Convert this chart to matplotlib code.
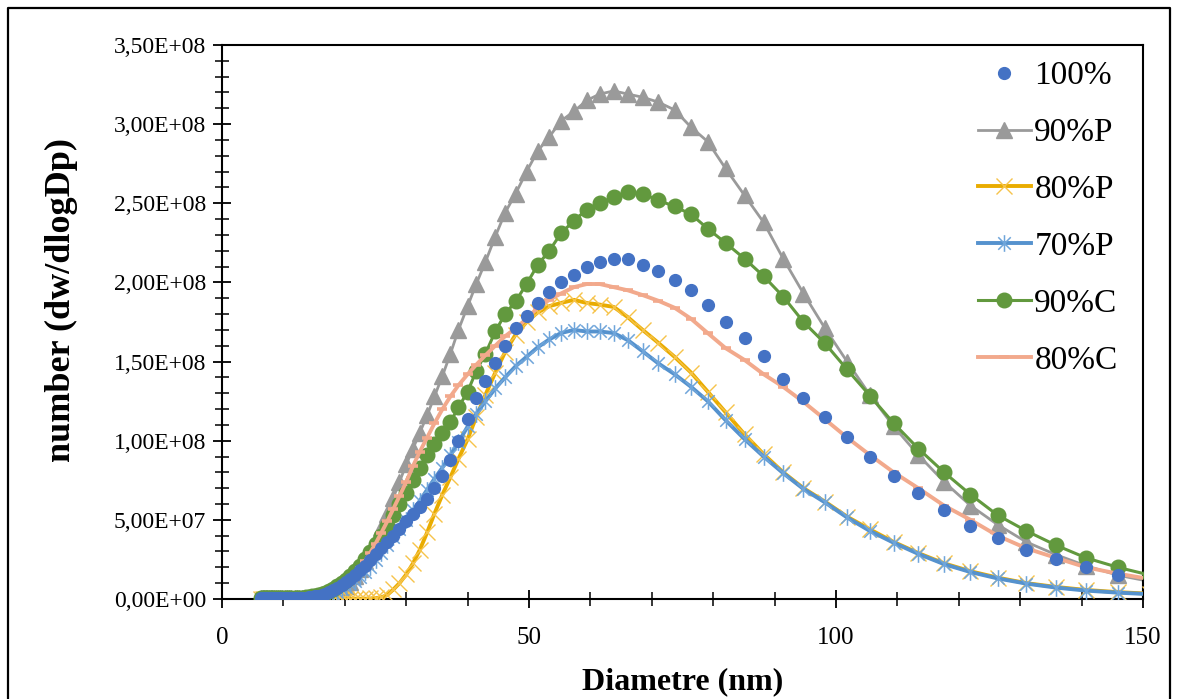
import matplotlib
matplotlib.use("Agg")
import matplotlib.pyplot as plt
from matplotlib.lines import Line2D
from matplotlib.path import Path
from matplotlib.ticker import MultipleLocator, FuncFormatter
import numpy as np

plt.rcParams["font.family"] = ["Liberation Serif", "DejaVu Serif"]

# ── data: SMPS channel diameters (nm) and dN/dlogDp (x 1e8) ──────────────────
diam = [6.38, 6.61, 6.85, 7.09, 7.37, 7.64, 7.91, 8.20, 8.51, 8.82,
        9.14, 9.47, 9.82, 10.2, 10.6, 10.9, 11.3, 11.8, 12.2, 12.6,
        13.1, 13.6, 14.1, 14.6, 15.1, 15.7, 16.3, 16.8, 17.5, 18.1,
        18.8, 19.5, 20.2, 20.9, 21.7, 22.5, 23.3, 24.1, 25.0, 25.9,
        26.9, 27.9, 28.9, 30.0, 31.1, 32.2, 33.4, 34.6, 35.9, 37.2,
        38.5, 40.0, 41.4, 42.9, 44.5, 46.1, 47.8, 49.6, 51.4, 53.3,
        55.2, 57.3, 59.4, 61.5, 63.8, 66.1, 68.5, 71.0, 73.7, 76.4,
        79.1, 82.0, 85.1, 88.2, 91.4, 94.7, 98.2, 101.8, 105.5, 109.4,
        113.4, 117.6, 121.9, 126.3, 131.0, 135.8, 140.7, 145.9, 151.2]

p100 = [0.004, 0.004, 0.004, 0.004, 0.004, 0.004, 0.004, 0.004, 0.004, 0.004,
        0.004, 0.004, 0.004, 0.004, 0.005, 0.005, 0.005, 0.006, 0.006, 0.007,
        0.008, 0.009, 0.011, 0.013, 0.016, 0.020, 0.026, 0.033, 0.043, 0.055,
        0.070, 0.087, 0.106, 0.127, 0.152, 0.180, 0.210, 0.245, 0.285, 0.320,
        0.360, 0.400, 0.445, 0.490, 0.535, 0.580, 0.630, 0.700, 0.780, 0.880,
        1.000, 1.140, 1.270, 1.380, 1.490, 1.600, 1.710, 1.790, 1.870, 1.940,
        2.000, 2.050, 2.095, 2.130, 2.145, 2.145, 2.110, 2.070, 2.015, 1.950,
        1.860, 1.750, 1.650, 1.535, 1.390, 1.270, 1.150, 1.025, 0.900, 0.780,
        0.670, 0.560, 0.460, 0.385, 0.310, 0.255, 0.200, 0.150, 0.115]

p90P = [0.003, 0.003, 0.003, 0.003, 0.003, 0.003, 0.003, 0.003, 0.003, 0.003,
        0.003, 0.003, 0.003, 0.003, 0.003, 0.003, 0.003, 0.003, 0.003, 0.003,
        0.003, 0.004, 0.005, 0.006, 0.008, 0.011, 0.015, 0.020, 0.027, 0.037,
        0.050, 0.066, 0.085, 0.110, 0.145, 0.190, 0.240, 0.300, 0.370, 0.450,
        0.540, 0.640, 0.740, 0.850, 0.950, 1.050, 1.160, 1.280, 1.410, 1.550,
        1.700, 1.850, 1.990, 2.130, 2.290, 2.440, 2.560, 2.700, 2.830, 2.920,
        3.020, 3.080, 3.150, 3.190, 3.210, 3.190, 3.170, 3.140, 3.090, 2.980,
        2.890, 2.720, 2.550, 2.380, 2.150, 1.930, 1.710, 1.500, 1.290, 1.090,
        0.910, 0.740, 0.590, 0.470, 0.360, 0.280, 0.210, 0.150, 0.110]

p80P = [0.001, 0.001, 0.001, 0.001, 0.001, 0.001, 0.001, 0.001, 0.001, 0.001,
        0.001, 0.001, 0.001, 0.001, 0.001, 0.001, 0.001, 0.001, 0.001, 0.001,
        0.001, 0.001, 0.001, 0.001, 0.001, 0.001, 0.001, 0.001, 0.001, 0.001,
        0.001, 0.001, 0.001, 0.001, 0.002, 0.002, 0.002, 0.003, 0.005, 0.010,
        0.025, 0.060, 0.100, 0.155, 0.225, 0.310, 0.420, 0.540, 0.660, 0.770,
        0.885, 1.010, 1.150, 1.290, 1.430, 1.560, 1.670, 1.750, 1.810, 1.850,
        1.870, 1.890, 1.870, 1.860, 1.845, 1.780, 1.700, 1.620, 1.530, 1.430,
        1.310, 1.180, 1.040, 0.915, 0.800, 0.700, 0.615, 0.520, 0.440, 0.360,
        0.290, 0.225, 0.175, 0.135, 0.100, 0.076, 0.057, 0.043, 0.033]

p70P = [0.002, 0.002, 0.002, 0.002, 0.002, 0.002, 0.002, 0.002, 0.002, 0.002,
        0.002, 0.002, 0.002, 0.002, 0.002, 0.002, 0.002, 0.002, 0.002, 0.002,
        0.002, 0.003, 0.004, 0.005, 0.007, 0.010, 0.014, 0.019, 0.026, 0.035,
        0.046, 0.060, 0.075, 0.093, 0.115, 0.140, 0.170, 0.200, 0.245, 0.290,
        0.340, 0.390, 0.440, 0.500, 0.560, 0.620, 0.690, 0.760, 0.830, 0.910,
        0.990, 1.090, 1.170, 1.250, 1.330, 1.400, 1.470, 1.530, 1.590, 1.640,
        1.680, 1.700, 1.690, 1.690, 1.680, 1.635, 1.565, 1.490, 1.420, 1.340,
        1.250, 1.130, 1.010, 0.900, 0.795, 0.695, 0.610, 0.515, 0.430, 0.355,
        0.285, 0.220, 0.170, 0.130, 0.097, 0.072, 0.053, 0.040, 0.030]

p90C = [0.004, 0.004, 0.004, 0.004, 0.004, 0.004, 0.004, 0.004, 0.004, 0.004,
        0.004, 0.004, 0.004, 0.004, 0.005, 0.005, 0.005, 0.006, 0.007, 0.008,
        0.009, 0.011, 0.013, 0.016, 0.020, 0.025, 0.032, 0.040, 0.051, 0.064,
        0.080, 0.098, 0.120, 0.145, 0.175, 0.210, 0.250, 0.295, 0.345, 0.400,
        0.460, 0.530, 0.600, 0.670, 0.750, 0.830, 0.910, 0.980, 1.050, 1.120,
        1.210, 1.310, 1.440, 1.550, 1.690, 1.800, 1.880, 1.990, 2.110, 2.200,
        2.310, 2.390, 2.460, 2.500, 2.540, 2.570, 2.560, 2.520, 2.480, 2.430,
        2.340, 2.250, 2.150, 2.040, 1.910, 1.750, 1.615, 1.450, 1.285, 1.110,
        0.950, 0.800, 0.660, 0.530, 0.430, 0.340, 0.260, 0.200, 0.150]

p80C = [0.003, 0.003, 0.003, 0.003, 0.003, 0.003, 0.003, 0.003, 0.003, 0.003,
        0.003, 0.003, 0.003, 0.003, 0.003, 0.003, 0.003, 0.003, 0.003, 0.003,
        0.003, 0.004, 0.005, 0.006, 0.008, 0.011, 0.015, 0.020, 0.028, 0.038,
        0.052, 0.070, 0.092, 0.120, 0.155, 0.195, 0.240, 0.290, 0.350, 0.415,
        0.490, 0.570, 0.650, 0.740, 0.840, 0.930, 1.020, 1.110, 1.200, 1.280,
        1.350, 1.420, 1.480, 1.540, 1.600, 1.660, 1.710, 1.770, 1.840, 1.890,
        1.930, 1.970, 1.990, 1.990, 1.970, 1.950, 1.920, 1.885, 1.840, 1.770,
        1.680, 1.585, 1.510, 1.420, 1.340, 1.245, 1.135, 1.020, 0.910, 0.800,
        0.700, 0.590, 0.500, 0.400, 0.320, 0.260, 0.200, 0.160, 0.125]

SCALE = 1e8
x = np.array(diam)

# Excel "star" marker: vertical bar + X
star = Path([(0, -1), (0, 1), (-0.75, -0.75), (0.75, 0.75), (-0.75, 0.75), (0.75, -0.75)],
            [Path.MOVETO, Path.LINETO] * 3)

fig = plt.figure(figsize=(11.78, 6.99), dpi=100)
ax = fig.add_axes([0.1885, 0.1431, 0.7818, 0.7925])

ax.plot(x, np.array(p90P) * SCALE, color="#9A9A9A", lw=2.0, marker="^", ms=11,
        mfc="#9A9A9A", mec="#9A9A9A", label="90%P", zorder=2)
ax.plot(x, np.array(p80P) * SCALE, color="#E9AC00", lw=2.8, marker="x", ms=11,
        mec="#F6C34A", mew=1.0, label="80%P", zorder=3)
ax.plot(x, np.array(p70P) * SCALE, color="#5592CE", lw=2.8, marker=star, ms=12,
        mfc="none", mec="#6FA5DA", mew=1.1, label="70%P", zorder=4)
ax.plot(x, np.array(p90C) * SCALE, color="#62993E", lw=2.2, marker="o", ms=10.5,
        mfc="#62993E", mec="#62993E", label="90%C", zorder=5)
ax.plot(x, np.array(p80C) * SCALE, color="#F2A98C", lw=2.8, marker="_", ms=7,
        mew=2.6, label="80%C", zorder=6)
ax.plot(x, np.array(p100) * SCALE, ls="none", marker="o", ms=8.5,
        mfc="#4472C4", mec="#4472C4", label="100%", zorder=7)

ax.set_xlim(0, 150)
ax.set_ylim(0, 3.5e8)
ax.xaxis.set_major_locator(MultipleLocator(50))
ax.xaxis.set_minor_locator(MultipleLocator(10))
ax.yaxis.set_major_locator(MultipleLocator(0.5e8))
ax.yaxis.set_minor_locator(MultipleLocator(0.1e8))
ax.yaxis.set_major_formatter(FuncFormatter(lambda v, p: f"{v:.2E}".replace(".", ",")))

ax.tick_params(which="major", direction="inout", length=13, width=1.3, labelsize=17,
               colors="black")
ax.tick_params(axis="x", which="major", labelsize=18, pad=14)
ax.tick_params(which="minor", direction="inout", length=9.5, width=1.1)
ax.tick_params(axis="y", which="major", pad=5)
for s in ax.spines.values():
    s.set_linewidth(1.5)
    s.set_color("black")

ax.set_xlabel("Diametre (nm)", fontsize=23, fontweight="bold")
ax.xaxis.set_label_coords(0.5, -0.123)
ax.set_ylabel("number (dw/dlogDp)", fontsize=26, fontweight="bold", va="center")
ax.yaxis.set_label_coords(-0.174, 0.54)

# legend in Excel order
h, l = ax.get_legend_handles_labels()
order = ["100%", "90%P", "80%P", "70%P", "90%C", "80%C"]
hh = [h[l.index(k)] for k in order]
ax.legend(hh, order, loc="upper right", bbox_to_anchor=(0.960, 0.932),
          bbox_transform=fig.transFigure, frameon=False, fontsize=24,
          handlelength=1.6, handletextpad=0.1, labelspacing=0.79, borderaxespad=0)

# chart-area border (Excel)
x0, x1, yt = 8 / 1178, 1170 / 1178, 1 - 8 / 699
fig.add_artist(Line2D([x0, x0, x1, x1], [-0.01, yt, yt, -0.01],
                      transform=fig.transFigure, color="black", lw=1.6))

fig.savefig("out.png", dpi=100, facecolor="white")
